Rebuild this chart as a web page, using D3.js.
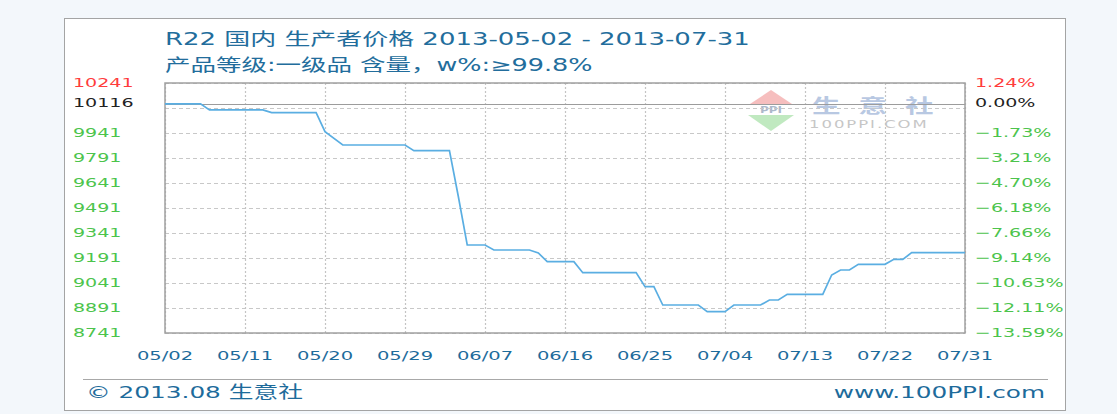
<!DOCTYPE html>
<html>
<head>
<meta charset="utf-8">
<script src="https://cdn.jsdelivr.net/npm/d3@7"></script>
<style>
  body { margin: 0; background: #f3f7fb; }
  svg { display: block; }
  text { font-family: "DejaVu Sans", "Noto Sans CJK SC", sans-serif; }
</style>
</head>
<body>
<svg id="chart" width="1117" height="414"></svg>
<script>
// price readings, R22 domestic producer price
const dates = ["2013-05-02","2013-05-06","2013-05-07","2013-05-13","2013-05-14","2013-05-19","2013-05-20","2013-05-22",
  "2013-05-29","2013-05-30","2013-06-03","2013-06-04","2013-06-05","2013-06-07","2013-06-08","2013-06-12","2013-06-13",
  "2013-06-14","2013-06-17","2013-06-18","2013-06-24","2013-06-25","2013-06-26","2013-06-27","2013-07-01","2013-07-02",
  "2013-07-04","2013-07-05","2013-07-08","2013-07-09","2013-07-10","2013-07-11","2013-07-15","2013-07-16","2013-07-17",
  "2013-07-18","2013-07-19","2013-07-22","2013-07-23","2013-07-24","2013-07-25","2013-07-31"]
const prices = [10116,10116,10080,10080,10063,10063,9949,9869,
  9869,9835,9835,9560,9269,9269,9239,9239,9221,
  9169,9169,9103,9103,9019,9019,8909,8909,8869,
  8869,8909,8909,8939,8939,8973,8973,9089,9119,
  9119,9153,9153,9183,9183,9223,9223]

const baseValue = 10116
const gridValues = [8741, 8891, 9041, 9191, 9341, 9491, 9641, 9791, 9941, 10091, 10241]
const labelValues = [8741, 8891, 9041, 9191, 9341, 9491, 9641, 9791, 9941, 10116, 10241]
const xTickLabels = ["05/02","05/11","05/20","05/29","06/07","06/16","06/25","07/04","07/13","07/22","07/31"]
const xTickDates = ["2013-05-02","2013-05-11","2013-05-20","2013-05-29","2013-06-07","2013-06-16","2013-06-25","2013-07-04","2013-07-13","2013-07-22","2013-07-31"]

const title1 = "R22 国内 生产者价格 2013-05-02 - 2013-07-31"
const title2 = "产品等级:一级品 含量，w%:≥99.8%"

const SX = 1.5   // the picture is stretched sideways
const plot = {left: 165, right: 965, top: 83, bottom: 333}
const green = "#4cc44c", red = "#ff3c3c", blue = "#1d6b9b"

const parse = d3.timeParse("%Y-%m-%d")
const svg = d3.select("#chart")

const x = d3.scaleTime().domain([parse(dates[0]), parse(dates[dates.length - 1])]).range([plot.left, plot.right])
const y = d3.scaleLinear().domain([gridValues[0], gridValues[gridValues.length - 1]]).range([plot.bottom, plot.top])
const pct = d3.format(".2f")

function label(g, px, py, txt, size, color, anchor) {
  return g.append("text")
    .attr("transform", "translate(" + px + "," + py + ") scale(" + SX + ",1)")
    .attr("font-size", size)
    .attr("fill", color)
    .attr("text-anchor", anchor || "start")
    .text(txt)
}

// panel
svg.append("rect").attr("x", 64.5).attr("y", 18.5).attr("width", 1001).attr("height", 392)
  .attr("fill", "#fff").attr("stroke", "#a4a4a4")

label(svg, 165, 45, title1, 17.3, "#226d9c")
label(svg, 165, 71, title2, 17, "#226d9c")

// watermark
const wm = svg.append("g").attr("opacity", 0.55)
wm.append("path").attr("d", "M750,104 L771,90 L792,104 Z").attr("fill", "#f08a8a")
wm.append("path").attr("d", "M748,115 L794,115 L771,131 Z").attr("fill", "#8ed88e")
label(wm, 771, 113, "PPI", 8, "#6a7fa0", "middle").attr("font-weight", "bold")
label(wm, 812, 113, "生意社", 19, "#7f9ccc").attr("font-weight", "bold").attr("letter-spacing", 12)
label(wm, 809, 128, "100PPI.COM", 11, "#999").attr("letter-spacing", 1.3)

// grid
const grid = svg.append("g")
grid.selectAll(".h").data(gridValues).enter().append("line")
  .attr("x1", plot.left).attr("x2", plot.right)
  .attr("y1", d => Math.round(y(d)) + 0.5).attr("y2", d => Math.round(y(d)) + 0.5)
  .attr("stroke", "#c8c8c8").attr("stroke-dasharray", "4,3")
grid.selectAll(".v").data(xTickDates).enter().append("line")
  .attr("x1", d => Math.round(x(parse(d))) + 0.5).attr("x2", d => Math.round(x(parse(d))) + 0.5)
  .attr("y1", plot.top).attr("y2", plot.bottom)
  .attr("stroke", "#c4c4c4").attr("stroke-width", 1.2).attr("stroke-dasharray", "2,2")

// base line (0%)
svg.append("line").attr("x1", plot.left).attr("x2", plot.right)
  .attr("y1", Math.round(y(baseValue)) + 0.5).attr("y2", Math.round(y(baseValue)) + 0.5)
  .attr("stroke", "#9c9c9c")

// plot border
svg.append("rect").attr("x", plot.left).attr("y", plot.top).attr("width", plot.right - plot.left)
  .attr("height", plot.bottom - plot.top).attr("fill", "none").attr("stroke", "#a0a0a0").attr("stroke-width", 1.5)

// price line
const line = d3.line().x((d, i) => x(parse(dates[i]))).y(d => y(d))
svg.append("path").datum(prices).attr("d", line)
  .attr("fill", "none").attr("stroke", "#5aaee2").attr("stroke-width", 1.7)

// axis labels
const colorOf = v => v > baseValue ? red : (v === baseValue ? "#222" : green)
labelValues.forEach(v => {
  label(svg, 73, y(v) + 3.5, String(v), 12.7, colorOf(v))
  label(svg, 975, y(v) + 3.5, pct((v - baseValue) / baseValue * 100) + "%", 12.7, colorOf(v))
})
xTickDates.forEach((d, i) => {
  label(svg, x(parse(d)), 360, xTickLabels[i], 13, blue, "middle")
})

// footer
svg.append("line").attr("x1", 83).attr("x2", 1048).attr("y1", 379.5).attr("y2", 379.5).attr("stroke", "#a8a8a8")
label(svg, 86, 398, "© 2013.08 生意社", 16.5, blue)
label(svg, 1045, 398, "www.100PPI.com", 16.5, blue, "end")
</script>
</body>
</html>
